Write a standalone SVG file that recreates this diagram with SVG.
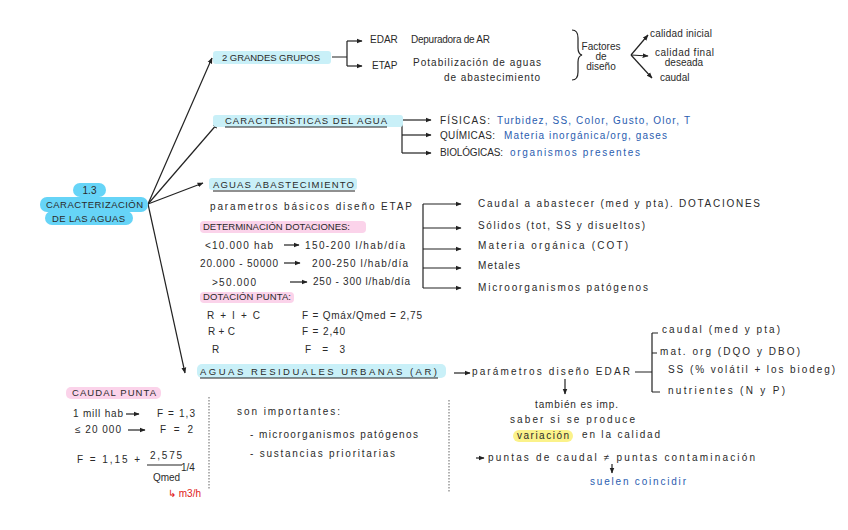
<svg xmlns="http://www.w3.org/2000/svg" width="848" height="530" viewBox="0 0 848 530">
<defs>
<marker id="ah" viewBox="0 0 10 10" refX="9" refY="5" markerWidth="5" markerHeight="5" orient="auto"><path d="M0,1 L10,5 L0,9 z" fill="#222"/></marker>
</defs>
<style>
text{font-family:"Liberation Sans",Arial,sans-serif;fill:#2a2a2a;font-size:10px}
.cap{font-size:9.5px}
.blue{fill:#2a5db0}
.red{fill:#e02020}
.ln{stroke:#222;stroke-width:1.2;fill:none}
.ar{stroke:#222;stroke-width:1.2;fill:none;marker-end:url(#ah)}
.hc{fill:#c9f0f8}
.hp{fill:#fbd3ea}
.dot{stroke:#999;stroke-width:1.5;stroke-dasharray:1.5 1.5;fill:none}
</style>
<rect width="848" height="530" fill="#fff"/>

<g id="connectors">
<path class="ar" d="M148,204 L212,58"/>
<path class="ar" d="M148,204 L218,123"/>
<path class="ar" d="M148,204 L203,183"/>
<path class="ar" d="M148,204 L185,373"/>
<path class="ln" d="M332,57 H347 M347,41 V66"/>
<path class="ar" d="M347,41 H362"/>
<path class="ar" d="M347,66 H362"/>
<path class="ln" d="M572,30 q6,0 6,8 v10 q0,6 4,7 q-4,1 -4,7 v10 q0,8 -6,8"/>
<path class="ar" d="M631,55 L648,35"/>
<path class="ar" d="M631,55 L648,56"/>
<path class="ar" d="M631,55 L652,78"/>
<path class="ln" d="M402,120 V153"/>
<path class="ar" d="M402,120 H431"/>
<path class="ar" d="M402,135 H431"/>
<path class="ar" d="M402,153 H431"/>
<path class="ln" d="M423,204 V288"/>
<path class="ar" d="M423,204 H461"/>
<path class="ar" d="M423,228 H461"/>
<path class="ar" d="M423,249 H461"/>
<path class="ar" d="M423,268 H461"/>
<path class="ar" d="M423,288 H461"/>
<path class="ar" d="M454,373 H470"/>
<path class="ln" d="M635,372 H652 M652,333 V392 M652,333 H658 M652,353 H657 M652,392 H660"/>
<path class="ar" d="M565,379 V394"/>
<path class="ar" d="M612,464 V473"/>
<path class="ar" d="M284,245 H299"/>
<path class="ar" d="M284,263 H300"/>
<path class="ar" d="M290,282 H307"/>
<path class="ar" d="M126,414 H139"/>
<path class="ar" d="M128,430 H145"/>
<path class="ar" d="M476,458 H484"/>
<path class="dot" d="M209,397 V490"/>
<path class="dot" d="M449,400 V492"/>
</g>

<g id="central">
<rect x="73" y="183" width="33" height="14" rx="7" fill="#66d4f7"/>
<rect x="40" y="197" width="108" height="15" rx="7" fill="#66d4f7"/>
<rect x="45" y="211" width="88" height="14" rx="7" fill="#66d4f7"/>
<text x="89.5" y="194" text-anchor="middle" font-size="10">1.3</text>
<text x="46" y="208" class="cap" font-size="9" textLength="97" lengthAdjust="spacing">CARACTERIZACIÓN</text>
<text x="52" y="222" class="cap" font-size="9" textLength="73" lengthAdjust="spacing">DE LAS AGUAS</text>
</g>

<g id="grupos">
<rect class="hc" x="213" y="51" width="118" height="13" rx="3"/>
<text x="222" y="61" class="cap" textLength="98" lengthAdjust="spacing">2 GRANDES GRUPOS</text>
<text x="370" y="43" font-size="8.5">EDAR</text>
<text x="411" y="43" font-size="8.5" textLength="79" lengthAdjust="spacing">Depuradora de AR</text>
<text x="372" y="69" font-size="8.5">ETAP</text>
<text x="413" y="66" font-size="8.5" textLength="128" lengthAdjust="spacing">Potabilización de aguas</text>
<text x="444" y="81" font-size="8.5" textLength="96" lengthAdjust="spacing">de abastecimiento</text>
<text x="601" y="50" font-size="8.5" text-anchor="middle">Factores</text>
<text x="601" y="60" font-size="8.5" text-anchor="middle">de</text>
<text x="601" y="70" font-size="8.5" text-anchor="middle">diseño</text>
<text x="650" y="37" font-size="8" textLength="62" lengthAdjust="spacing">calidad inicial</text>
<text x="655" y="56" font-size="8" textLength="59" lengthAdjust="spacing">calidad final</text>
<text x="684" y="66" font-size="8" text-anchor="middle">deseada</text>
<text x="660" y="81" font-size="8">caudal</text>
</g>

<g id="caracteristicas">
<rect class="hc" x="213" y="115" width="190" height="12" rx="3"/>
<text x="225" y="124" class="cap" textLength="162" lengthAdjust="spacing">CARACTERÍSTICAS DEL AGUA</text>
<path class="ln" d="M225,127 H387" stroke-width="1"/>
<text x="440" y="124" font-size="9" textLength="50" lengthAdjust="spacing">FÍSICAS:</text>
<text x="497" y="124" class="blue" font-size="9.5" textLength="193" lengthAdjust="spacing">Turbidez, SS, Color, Gusto, Olor, T</text>
<text x="440" y="139" font-size="9" textLength="55" lengthAdjust="spacing">QUÍMICAS:</text>
<text x="504" y="139" class="blue" font-size="9.5" textLength="163" lengthAdjust="spacing">Materia inorgánica/org, gases</text>
<text x="440" y="156" font-size="8.5" textLength="63" lengthAdjust="spacing">BIOLÓGICAS:</text>
<text x="510" y="156" class="blue" font-size="9.5" textLength="130" lengthAdjust="spacing">organismos presentes</text>
</g>

<g id="abastecimiento">
<rect class="hc" x="209" y="178" width="148" height="12" rx="3"/>
<text x="213" y="188" class="cap" textLength="141" lengthAdjust="spacing">AGUAS ABASTECIMIENTO</text>
<path class="ln" d="M213,191 H355" stroke-width="1"/>
<text x="210" y="210" font-size="9.5" textLength="202" lengthAdjust="spacing">parametros básicos diseño ETAP</text>
<rect class="hp" x="200" y="221" width="166" height="12" rx="4"/>
<text x="203" y="230" class="cap" font-size="8.5" textLength="147" lengthAdjust="spacing">DETERMINACIÓN DOTACIONES:</text>
<text x="205" y="249" font-size="9.5" textLength="68" lengthAdjust="spacing">&lt;10.000 hab</text>
<text x="305" y="249" font-size="9" textLength="100" lengthAdjust="spacing">150-200 l/hab/día</text>
<text x="200" y="267" font-size="9" textLength="78" lengthAdjust="spacing">20.000 - 50000</text>
<text x="312" y="267" font-size="9" textLength="96" lengthAdjust="spacing">200-250 l/hab/día</text>
<text x="212" y="286" font-size="9" textLength="44" lengthAdjust="spacing">&gt;50.000</text>
<text x="313" y="285" font-size="9" textLength="97" lengthAdjust="spacing">250 - 300 l/hab/día</text>
<rect class="hp" x="200" y="292" width="94" height="11" rx="4"/>
<text x="203" y="300" class="cap" font-size="8" textLength="88" lengthAdjust="spacing">DOTACIÓN PUNTA:</text>
<text x="207" y="319" font-size="9.5" textLength="53" lengthAdjust="spacing">R + I + C</text>
<text x="302" y="319" font-size="9.5" textLength="120" lengthAdjust="spacing">F = Qmáx/Qmed = 2,75</text>
<text x="208" y="335" font-size="9.5" textLength="27" lengthAdjust="spacing">R + C</text>
<text x="302" y="335" font-size="9.5" textLength="43" lengthAdjust="spacing">F = 2,40</text>
<text x="212" y="353" font-size="9.5">R</text>
<text x="305" y="353" font-size="9.5" textLength="40" lengthAdjust="spacing">F = 3</text>
<text x="478" y="207" font-size="10" textLength="282" lengthAdjust="spacing">Caudal a abastecer (med y pta). DOTACIONES</text>
<text x="478" y="229" font-size="10" textLength="167" lengthAdjust="spacing">Sólidos (tot, SS y disueltos)</text>
<text x="478" y="249" font-size="10" textLength="150" lengthAdjust="spacing">Materia orgánica (COT)</text>
<text x="478" y="269" font-size="10" textLength="42" lengthAdjust="spacing">Metales</text>
<text x="478" y="291" font-size="10" textLength="170" lengthAdjust="spacing">Microorganismos patógenos</text>
</g>

<g id="residuales">
<rect class="hc" x="197" y="364" width="249" height="14" rx="5"/>
<text x="200" y="375" class="cap" font-size="10.5" textLength="237" lengthAdjust="spacing">AGUAS RESIDUALES URBANAS (AR)</text>
<path class="ln" d="M200,378 H438" stroke-width="1"/>
<text x="472" y="375" font-size="10" textLength="158" lengthAdjust="spacing">parámetros diseño EDAR</text>
<text x="662" y="333" font-size="9.5" textLength="118" lengthAdjust="spacing">caudal (med y pta)</text>
<text x="660" y="355" font-size="9.5" textLength="140" lengthAdjust="spacing">mat. org (DQO y DBO)</text>
<text x="668" y="373" font-size="9.5" textLength="167" lengthAdjust="spacing">SS (% volátil + los biodeg)</text>
<text x="668" y="394" font-size="9.5" textLength="117" lengthAdjust="spacing">nutrientes (N y P)</text>
<text x="535" y="408" font-size="9" textLength="83" lengthAdjust="spacing">también es imp.</text>
<text x="510" y="423" font-size="9" textLength="125" lengthAdjust="spacing">saber si se produce</text>
<rect x="513" y="430" width="60" height="12" rx="6" fill="#fbf28a"/>
<text x="517" y="439" font-size="9" textLength="52" lengthAdjust="spacing">variación</text>
<text x="582" y="438" font-size="9" textLength="78" lengthAdjust="spacing">en la calidad</text>
<text x="488" y="461" font-size="9" textLength="267" lengthAdjust="spacing">puntas de caudal ≠ puntas contaminación</text>
<text x="590" y="485" class="blue" font-size="9" textLength="96" lengthAdjust="spacing">suelen coincidir</text>
</g>

<g id="caudal-punta">
<rect class="hp" x="66" y="387" width="95" height="12" rx="5"/>
<text x="72" y="396" class="cap" font-size="9" textLength="84" lengthAdjust="spacing">CAUDAL PUNTA</text>
<text x="73" y="417" font-size="9.5" textLength="50" lengthAdjust="spacing">1 mill hab</text>
<text x="157" y="417" font-size="9.5" textLength="38" lengthAdjust="spacing">F = 1,3</text>
<text x="75" y="433" font-size="9.5" textLength="46" lengthAdjust="spacing">≤ 20 000</text>
<text x="160" y="433" font-size="9.5" textLength="33" lengthAdjust="spacing">F = 2</text>
<text x="77" y="463" font-size="9.5" textLength="63" lengthAdjust="spacing">F = 1,15 +</text>
<text x="150" y="459" font-size="9.5" textLength="32" lengthAdjust="spacing">2,575</text>
<path class="ln" d="M147,465 H182" stroke-width="1"/>
<text x="153" y="481" font-size="9" textLength="27" lengthAdjust="spacing">Qmed</text>
<text x="181" y="471" font-size="6">1/4</text>
<text x="168" y="497" class="red" font-size="8">↳ m3/h</text>
</g>

<g id="importantes">
<text x="237" y="415" font-size="9.5" textLength="103" lengthAdjust="spacing">son importantes:</text>
<text x="250" y="438" font-size="9.5" textLength="168" lengthAdjust="spacing">- microorganismos patógenos</text>
<text x="250" y="457" font-size="9.5" textLength="145" lengthAdjust="spacing">- sustancias prioritarias</text>
</g>
</svg>
